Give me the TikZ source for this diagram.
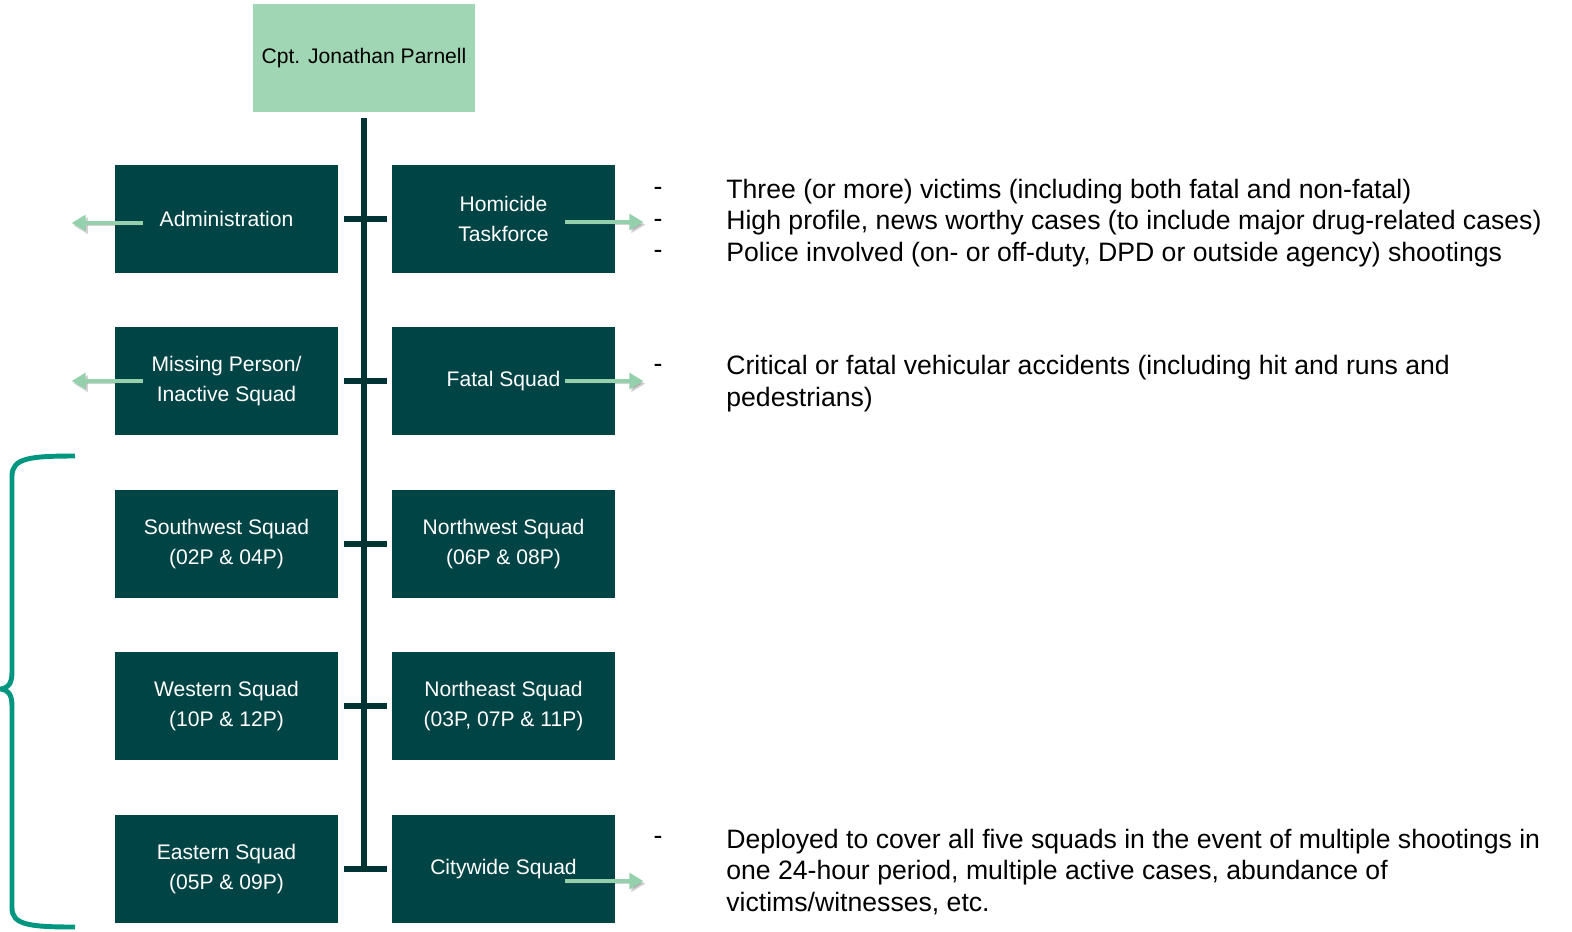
\documentclass[tikz,border=0pt]{standalone}
\usepackage{fontspec}
\setmainfont{Liberation Sans}
\usepackage{xcolor}
\usetikzlibrary{arrows.meta, positioning, calc}
\definecolor{boxcolor}{RGB}{0,68,69}
\definecolor{headcolor}{RGB}{160,214,180}
\definecolor{arrowcolor}{RGB}{148,208,172}
\definecolor{bracecolor}{RGB}{0,150,128}
\definecolor{linecolor}{RGB}{0,52,52}

\tikzset{
  unitbox/.style={fill=boxcolor, text=white, minimum width=4.46cm, minimum height=2.16cm,
    align=center, inner sep=0pt, font=\fontsize{12}{17.5}\selectfont},
  headbox/.style={unitbox, fill=headcolor, text=black},
  spine/.style={linecolor, line width=3.4pt},
  tick/.style={linecolor, line width=3pt},
  grnarrow/.style={arrowcolor, line width=2.8pt, -{Triangle[length=8pt,width=9pt]},
    preaction={draw=black!70, opacity=.25, transform canvas={shift={(1.2pt,-1.5pt)}}}},
  note/.style={anchor=west, align=left, inner sep=0pt, font=\fontsize{15.15}{18.1}\selectfont},
  dashmark/.style={inner sep=0pt, align=center, font=\fontsize{15.15}{18.1}\selectfont}
}

\begin{document}
\begin{tikzpicture}[x=0.02cm, y=-0.02cm]
    \useasboundingbox (0,0) rectangle (1572,931);

    % Captain
    \node[headbox] (cpt) at (364,58) {Cpt. Jonathan Parnell};

    % Units, two columns
    \foreach \i/\y/\lt/\rt in {1/219/{Administration}/{Homicide\\Taskforce},
        2/381/{Missing Person/\\Inactive Squad}/{Fatal Squad},
        3/544/{Southwest Squad\\(02P \& 04P)}/{Northwest Squad\\(06P \& 08P)},
        4/706/{Western Squad\\(10P \& 12P)}/{Northeast Squad\\(03P, 07P \& 11P)},
        5/869/{Eastern Squad\\(05P \& 09P)}/{Citywide Squad}} {
        \node[unitbox] (L\i) at (226.5,\y) {\lt};
        \node[unitbox] (R\i) at (503.5,\y) {\rt};
    }

    % Spine and ticks
    \coordinate (spineend) at ($(L5.east)!0.5!(R5.west)$);
    \draw[spine] ($(cpt.south)+(0,6)$) -- (cpt.south |- spineend);
    \foreach \i in {1,...,5} {
        \draw[tick] ($(L\i.east)+(6,0)$) -- ($(R\i.west)+(-5,0)$);
    }

    % Arrows
    \draw[grnarrow] ($(L1.west)+(28,4)$) -- ++(-71,0);
    \draw[grnarrow] ($(L2.west)+(28,0)$) -- ++(-71,0);
    \draw[grnarrow] ($(R1.east)+(-50,3)$) -- ++(78,0);
    \draw[grnarrow] ($(R2.east)+(-50,0)$) -- ++(78,0);
    \draw[grnarrow] ($(R5.east)+(-50,12)$) -- ++(78,0);

    % Brace round the five area squads
    \draw[bracecolor, line width=2.8pt] (75,456) .. controls (30,456) and (12,458) .. (12,476)
        -- (12,672) .. controls (12,684) and (8,688) .. (1,689)
        .. controls (8,690) and (12,694) .. (12,706)
        -- (12,908) .. controls (12,925) and (30,927) .. (75,927);

    % Notes
    \node[dashmark] (d1) at (658,223) {-\\-\\-};
    \node[note] (n1) at (726,223) {Three (or more) victims (including both fatal and non-fatal)\\
        High profile, news worthy cases (to include major drug-related cases)\\
        Police involved (on- or off-duty, DPD or outside agency) shootings};

    \node[dashmark] (d2) at (658,368) {-};
    \node[note] (n2) at (726,384) {Critical or fatal vehicular accidents (including hit and runs and\\
        pedestrians)};

    \node[dashmark] (d3) at (658,840) {-};
    \node[note] (n3) at (726,872) {Deployed to cover all five squads in the event of multiple shootings in\\
        one 24-hour period, multiple active cases, abundance of\\
        victims/witnesses, etc.};
\end{tikzpicture}
\end{document}
